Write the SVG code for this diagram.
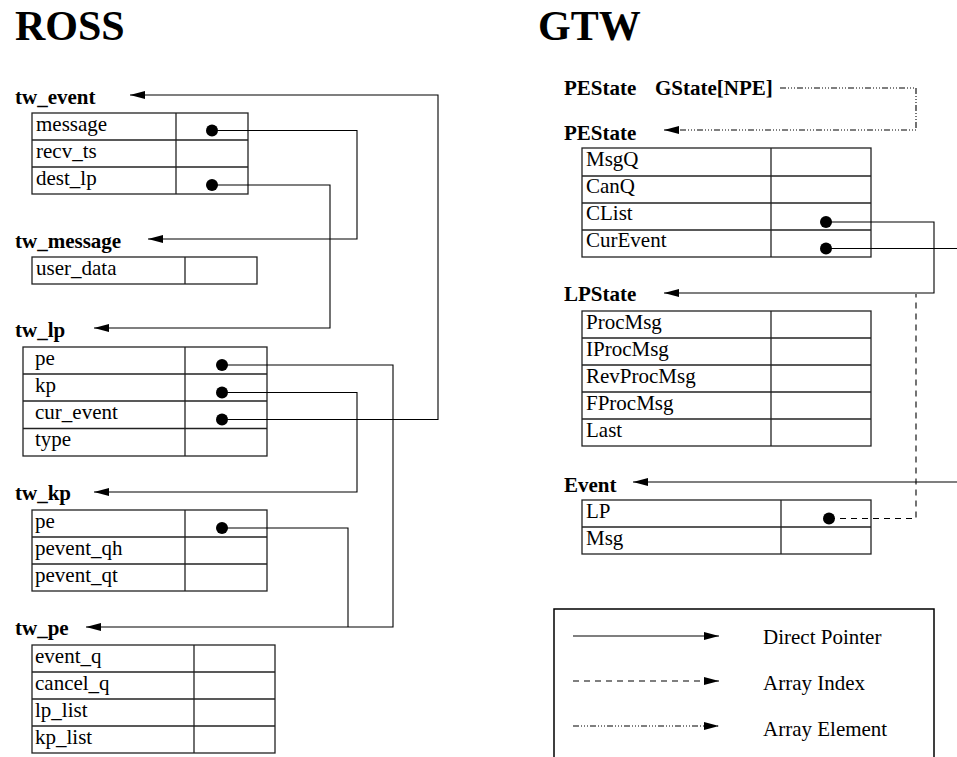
<svg xmlns="http://www.w3.org/2000/svg" width="957" height="757" viewBox="0 0 957 757">
<style>
text{font-family:"Liberation Serif","Times New Roman",serif;fill:#000}
.title{font-size:42px;font-weight:bold}
.lbl{font-size:21px;font-weight:bold}
.fld{font-size:21px}
.tbl rect,.tbl line{fill:none;stroke:#222;stroke-width:1.3}
.c{fill:none;stroke:#000;stroke-width:1.1}
.dash{stroke-dasharray:6 5}
.dd{stroke-dasharray:6 2 1 2 1 2 1 2}
.dot{fill:#000}
</style>
<defs>
<marker id="ah" viewBox="0 0 15 8" refX="15" refY="4" markerWidth="15" markerHeight="8" markerUnits="userSpaceOnUse" orient="auto">
<path d="M0,0 L15,4 L0,8 z" fill="#000"/>
</marker>
</defs>
<text class="title" x="15" y="40">ROSS</text>
<text class="title" x="538" y="40">GTW</text>

<g id="tw_event" class="tbl">
<text class="lbl" x="15" y="104">tw_event</text>
<rect x="32" y="113" width="216" height="81"/>
<line x1="176" y1="113" x2="176" y2="194"/>
<line x1="32" y1="140" x2="248" y2="140"/>
<line x1="32" y1="167" x2="248" y2="167"/>
<text class="fld" x="36" y="131">message</text>
<text class="fld" x="36" y="158">recv_ts</text>
<text class="fld" x="36" y="185">dest_lp</text>
<circle class="dot" cx="212" cy="130.5" r="6"/>
<circle class="dot" cx="212" cy="185" r="6"/>
</g>

<g id="tw_message" class="tbl">
<text class="lbl" x="15" y="248">tw_message</text>
<rect x="32" y="257" width="225" height="27"/>
<line x1="185" y1="257" x2="185" y2="284"/>
<text class="fld" x="36" y="275">user_data</text>
</g>

<g id="tw_lp" class="tbl">
<text class="lbl" x="15" y="337">tw_lp</text>
<rect x="23" y="347" width="244" height="109"/>
<line x1="185" y1="347" x2="185" y2="456"/>
<line x1="23" y1="374" x2="267" y2="374"/>
<line x1="23" y1="401" x2="267" y2="401"/>
<line x1="23" y1="428.5" x2="267" y2="428.5"/>
<text class="fld" x="35" y="365">pe</text>
<text class="fld" x="35" y="392">kp</text>
<text class="fld" x="35" y="419">cur_event</text>
<text class="fld" x="35" y="446">type</text>
<circle class="dot" cx="222" cy="365" r="6"/>
<circle class="dot" cx="222" cy="392.5" r="6"/>
<circle class="dot" cx="222" cy="419.5" r="6"/>
</g>

<g id="tw_kp" class="tbl">
<text class="lbl" x="15" y="500">tw_kp</text>
<rect x="32" y="510" width="235" height="81"/>
<line x1="185" y1="510" x2="185" y2="591"/>
<line x1="32" y1="537" x2="267" y2="537"/>
<line x1="32" y1="564" x2="267" y2="564"/>
<text class="fld" x="35" y="528">pe</text>
<text class="fld" x="35" y="555">pevent_qh</text>
<text class="fld" x="35" y="582">pevent_qt</text>
<circle class="dot" cx="222" cy="528" r="6"/>
</g>

<g id="tw_pe" class="tbl">
<text class="lbl" x="15" y="635">tw_pe</text>
<rect x="32" y="645" width="243" height="108"/>
<line x1="194" y1="645" x2="194" y2="753"/>
<line x1="32" y1="672" x2="275" y2="672"/>
<line x1="32" y1="699" x2="275" y2="699"/>
<line x1="32" y1="726" x2="275" y2="726"/>
<text class="fld" x="35" y="663">event_q</text>
<text class="fld" x="35" y="690">cancel_q</text>
<text class="fld" x="35" y="717">lp_list</text>
<text class="fld" x="35" y="744">kp_list</text>
</g>

<g id="gstate">
<text class="lbl" x="564" y="95">PEState</text>
<text class="lbl" x="655" y="95">GState[NPE]</text>
</g>

<g id="PEState" class="tbl">
<text class="lbl" x="564" y="140">PEState</text>
<rect x="582" y="148" width="289" height="109"/>
<line x1="771" y1="148" x2="771" y2="257"/>
<line x1="582" y1="176" x2="871" y2="176"/>
<line x1="582" y1="203" x2="871" y2="203"/>
<line x1="582" y1="230" x2="871" y2="230"/>
<text class="fld" x="586" y="166">MsgQ</text>
<text class="fld" x="586" y="193">CanQ</text>
<text class="fld" x="586" y="220">CList</text>
<text class="fld" x="586" y="247">CurEvent</text>
<circle class="dot" cx="826" cy="222" r="6"/>
<circle class="dot" cx="826" cy="248.5" r="6"/>
</g>

<g id="LPState" class="tbl">
<text class="lbl" x="564" y="301">LPState</text>
<rect x="582" y="311" width="289" height="135"/>
<line x1="771" y1="311" x2="771" y2="446"/>
<line x1="582" y1="338" x2="871" y2="338"/>
<line x1="582" y1="365" x2="871" y2="365"/>
<line x1="582" y1="392" x2="871" y2="392"/>
<line x1="582" y1="419" x2="871" y2="419"/>
<text class="fld" x="586" y="329">ProcMsg</text>
<text class="fld" x="586" y="356">IProcMsg</text>
<text class="fld" x="586" y="383">RevProcMsg</text>
<text class="fld" x="586" y="410">FProcMsg</text>
<text class="fld" x="586" y="437">Last</text>
</g>

<g id="Event" class="tbl">
<text class="lbl" x="564" y="492">Event</text>
<rect x="582" y="500" width="289" height="54"/>
<line x1="781" y1="500" x2="781" y2="554"/>
<line x1="582" y1="527" x2="871" y2="527"/>
<text class="fld" x="586" y="518">LP</text>
<text class="fld" x="586" y="545">Msg</text>
<circle class="dot" cx="829" cy="518.5" r="6"/>
</g>

<g id="connectors">
<path class="c" d="M212,130.5 H357 V239 H148" marker-end="url(#ah)"/>
<path class="c" d="M212,185 H330 V328 H94" marker-end="url(#ah)"/>
<path class="c" d="M222,419.5 H438 V95 H130" marker-end="url(#ah)"/>
<path class="c" d="M222,365 H393 V627 H86" marker-end="url(#ah)"/>
<path class="c" d="M222,392.5 H357 V492 H94" marker-end="url(#ah)"/>
<path class="c" d="M222,528 H348 V627"/>
<path class="c dd" d="M780,88 H916 V130 H664" marker-end="url(#ah)"/>
<path class="c" d="M826,222 H934 V293 H664" marker-end="url(#ah)"/>
<path class="c" d="M826,248.5 H960"/>
<path class="c" d="M960,482 H633" marker-end="url(#ah)"/>
<path class="c dash" d="M829,518.5 H916 V294"/>
</g>

<g id="legend">
<rect x="554" y="609" width="380" height="170" fill="none" stroke="#000" stroke-width="1.5"/>
<path class="c" d="M573,636 H719" marker-end="url(#ah)"/>
<path class="c dash" d="M573,681 H719" marker-end="url(#ah)"/>
<path class="c dd" d="M573,726 H719" marker-end="url(#ah)"/>
<text class="fld" x="763" y="644">Direct Pointer</text>
<text class="fld" x="763" y="690">Array Index</text>
<text class="fld" x="763" y="736">Array Element</text>
</g>
</svg>
